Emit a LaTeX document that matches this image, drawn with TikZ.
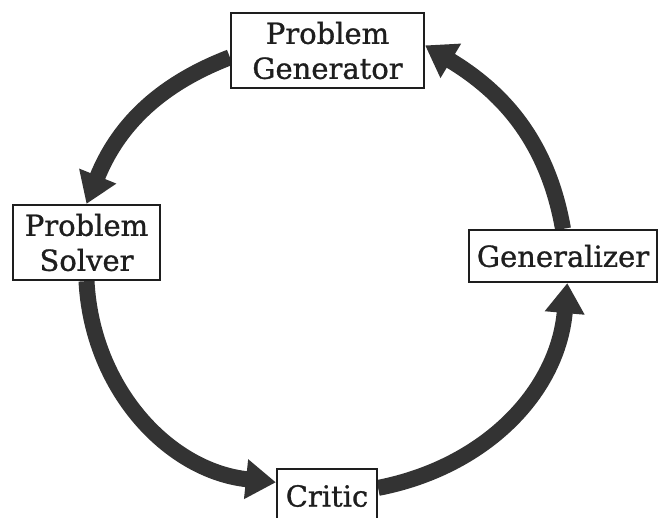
\documentclass[tikz,border=0pt]{standalone}
\usepackage{fontspec}
\setmainfont{DejaVu Serif}[FakeBold=1]
\usetikzlibrary{arrows.meta,backgrounds}
\definecolor{arcgray}{HTML}{333333}
\definecolor{boxline}{HTML}{1E1E1E}
\definecolor{textcol}{HTML}{1E1E1E}
\begin{document}
\begin{tikzpicture}[x=1pt,y=1pt,
  stage/.style={draw=boxline, line width=2.2pt, fill=white, inner sep=0pt,
    align=center, text=textcol, font=\fontsize{29}{35}\selectfont},
  flow/.style={draw=arcgray, line width=16pt,
    -{Triangle[length=30pt,width=38pt]}}
]
\useasboundingbox (0,0) rectangle (658,517);

% the four stages of the learning cycle
\node[stage, minimum width=193pt, minimum height=75pt] (PG) at (327.5,466.5) {Problem\\Generator};
\node[stage, minimum width=147pt, minimum height=75pt] (PS) at (86.5,274.5) {Problem\\Solver};
\node[stage, minimum width=188pt, minimum height=52pt] (GN) at (563,261) {Generalizer};
\node[stage, minimum width=100pt, minimum height=54pt] (CR) at (327,21) {Critic};

% thick curved arrows running round the cycle, behind the boxes
\begin{scope}[on background layer]
\draw[flow] (PG.184)   to[out=201,in=68]  (PS.north);
\draw[flow] (PS.south) to[out=273,in=174] (CR.165);
\draw[flow] (CR.9)     to[out=11,in=265]  (GN.-81);
\draw[flow] (GN.north) to[out=100,in=329] (PG.3);
\end{scope}
\end{tikzpicture}
\end{document}
